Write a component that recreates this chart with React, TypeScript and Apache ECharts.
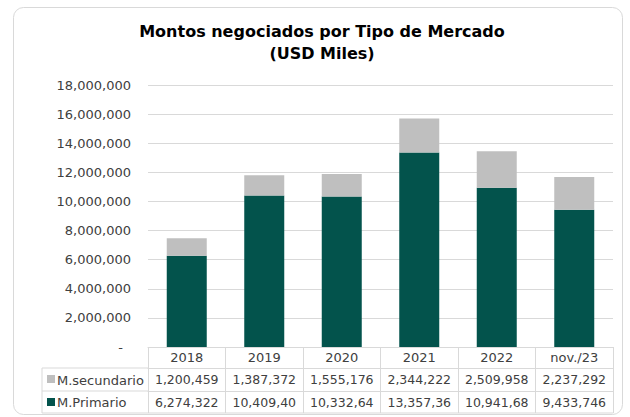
import React, { useEffect, useRef } from "react";
import * as echarts from "echarts";

const categories = ["2018", "2019", "2020", "2021", "2022", "nov./23"];
const secundario = [1200459, 1387372, 1555176, 2344222, 2509958, 2237292];
const primario = [6274322, 10409404, 10332645, 13357362, 10941683, 9433746];
const seriesNames = ["M.secundario", "M.Primario"];
const seriesColors = ["#bfbfbf", "#03534c"];
const yMax = 18000000;
const yInterval = 2000000;
const titleLines = ["Montos negociados por Tipo de Mercado", "(USD Miles)"];

const FONT = "DejaVu Sans";
const GRID_COLOR = "#d9d9d9";
const TEXT_COLOR = "#404040";

const fmt = (v: number) => v.toLocaleString("en-US");
// Excel clips cell text to the column width (9 characters fit)
const cell = (v: number) => fmt(v).slice(0, 9);

export default function App() {
  const ref = useRef<HTMLDivElement>(null);
  useEffect(() => {
    if (!ref.current) return;
    const chart = echarts.init(ref.current, undefined, { renderer: "svg" });
    const gridLeft = 148;
    const gridRight = 17;
    const axisY = 347;
    const row1 = 368;
    const row2 = 391;
    const row3 = 413;
    const tableLeft = 42;
    const lineStyle = { stroke: GRID_COLOR, lineWidth: 1 };

    const tableAxis = (offset: number, tickLen: number, margin: number, values: number[] | null) => ({
      type: "category",
      data: categories,
      position: "bottom",
      offset,
      boundaryGap: true,
      axisLine: { show: true, lineStyle: { color: GRID_COLOR, width: 1 } },
      axisTick: { show: true, interval: 0, length: tickLen, lineStyle: { color: GRID_COLOR } },
      axisLabel: {
        show: true,
        interval: 0,
        margin,
        fontFamily: FONT,
        fontSize: values ? 12.5 : 13,
        color: TEXT_COLOR,
        formatter: values ? (_v: string, i: number) => cell(values[i]) : (v: string) => v,
      },
    });

    chart.setOption({
      animation: false,
      backgroundColor: "#ffffff",
      title: {
        text: titleLines.join("\n"),
        left: 317,
        top: 15,
        textAlign: "center",
        textStyle: {
          fontFamily: FONT,
          fontSize: 16,
          fontWeight: "bold",
          color: "#000000",
          lineHeight: 22,
        },
      },
      grid: { left: gridLeft, right: gridRight, top: 85, bottom: 417 - axisY, containLabel: false },
      xAxis: [
        tableAxis(0, row1 - axisY, 4, null),
        tableAxis(row1 - axisY, row2 - row1, 5, secundario),
        tableAxis(row2 - axisY, row3 - row2, 4.5, primario),
      ],
      yAxis: {
        type: "value",
        min: 0,
        max: yMax,
        interval: yInterval,
        axisLine: { show: false },
        axisTick: { show: false },
        splitLine: { lineStyle: { color: GRID_COLOR, width: 1 } },
        axisLabel: {
          margin: 17,
          fontFamily: FONT,
          fontSize: 13,
          color: TEXT_COLOR,
          formatter: (v: number) => (v === 0 ? "{z|-}" : fmt(v)),
          rich: { z: { fontFamily: FONT, fontSize: 13, color: TEXT_COLOR, padding: [0, 8, 0, 0] } },
        },
      },
      series: [
        {
          name: seriesNames[1],
          type: "bar",
          stack: "total",
          xAxisIndex: 0,
          barWidth: 40,
          data: primario,
          itemStyle: { color: seriesColors[1] },
        },
        {
          name: seriesNames[0],
          type: "bar",
          stack: "total",
          xAxisIndex: 0,
          barWidth: 40,
          data: secundario,
          itemStyle: { color: seriesColors[0] },
        },
      ],
      graphic: [
        {
          type: "rect",
          z: -10,
          shape: { x: 13.5, y: 7.5, width: 609, height: 407, r: 10 },
          style: { fill: "none", stroke: GRID_COLOR, lineWidth: 1 },
          silent: true,
        },
        { type: "line", shape: { x1: tableLeft, y1: row1, x2: gridLeft, y2: row1 }, style: lineStyle },
        { type: "line", shape: { x1: tableLeft, y1: row2, x2: gridLeft, y2: row2 }, style: lineStyle },
        { type: "line", shape: { x1: tableLeft, y1: row3, x2: 630 - gridRight, y2: row3 }, style: lineStyle },
        { type: "line", shape: { x1: tableLeft, y1: row1, x2: tableLeft, y2: row3 }, style: lineStyle },
        { type: "rect", shape: { x: 47, y: 375, width: 8, height: 8 }, style: { fill: seriesColors[0] } },
        { type: "rect", shape: { x: 47, y: 398, width: 8, height: 8 }, style: { fill: seriesColors[1] } },
        {
          type: "text",
          x: 57,
          y: 380,
          style: { text: seriesNames[0], fontFamily: FONT, fontSize: 13, fill: TEXT_COLOR, verticalAlign: "middle" },
        },
        {
          type: "text",
          x: 57,
          y: 402,
          style: { text: seriesNames[1], fontFamily: FONT, fontSize: 13, fill: TEXT_COLOR, verticalAlign: "middle" },
        },
      ],
    });
    return () => chart.dispose();
  }, []);
  return <div ref={ref} style={{ position: "absolute", left: 0, top: 0, width: 630, height: 417 }} />;
}
